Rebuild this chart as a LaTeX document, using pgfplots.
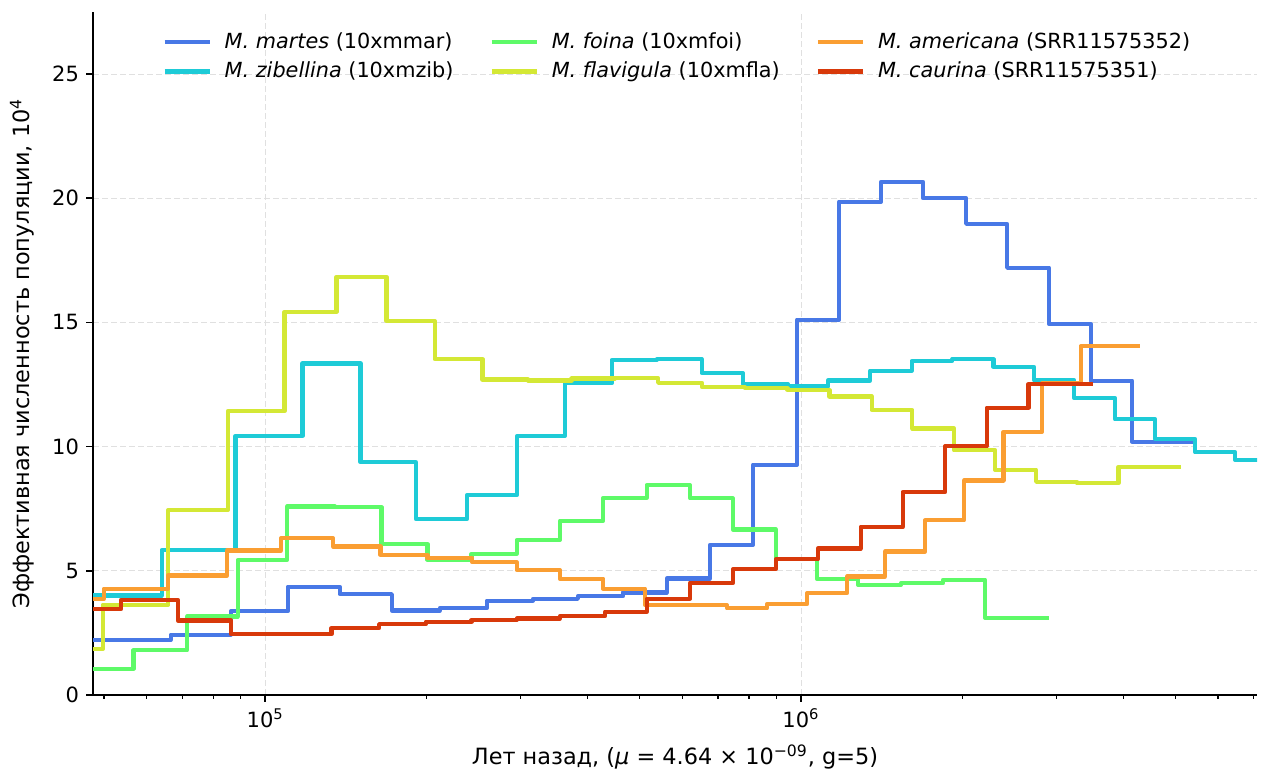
\documentclass[border=0pt]{standalone}
\usepackage{fontspec}
\setmainfont{DejaVu Sans}
\usepackage{pgfplots}
\pgfplotsset{compat=1.18}

\definecolor{cmartes}{HTML}{4878E6}
\definecolor{czibellina}{HTML}{1ECBD7}
\definecolor{cfoina}{HTML}{5EFA68}
\definecolor{cflavigula}{HTML}{D4E835}
\definecolor{camericana}{HTML}{FA9E32}
\definecolor{ccaurina}{HTML}{D8390A}

\begin{document}
\begin{tikzpicture}
\begin{axis}[
  name=ax,
  scale only axis,
  width=582pt, height=341.5pt,
  xmode=log,
  xmin=47700, xmax=7.1e6,
  ymin=0, ymax=27.5,
  axis x line=bottom, axis y line=left,
  axis line style={-, line width=0.8pt, black},
  xtick={1e5,1e6},
  xticklabels={10\textsuperscript{5},10\textsuperscript{6}},
  minor xtick={5e4,6e4,7e4,8e4,9e4,2e5,3e5,4e5,5e5,6e5,7e5,8e5,9e5,2e6,3e6,4e6,5e6,6e6,7e6},
  ytick={0,5,10,15,20,25},
  tick align=outside,
  major tick length=3.5pt, minor tick length=2pt,
  major tick style={black, line width=0.8pt},
  minor tick style={black, line width=0.6pt},
  xmajorgrids, ymajorgrids,
  major grid style={black!12, dash pattern=on 3pt off 1.5pt, line width=0.5pt},
  /pgf/number format/assume math mode=true,
  ticklabel style={font=\fontsize{10.5}{12.5}\selectfont},
  label style={font=\fontsize{11.2}{13.5}\selectfont},
  xlabel={Лет назад, (\textit{μ} = 4.64 × 10\textsuperscript{−09}, g=5)},
  ylabel={Эффективная численность популяции, 10\textsuperscript{4}},
  xlabel style={at={(axis description cs:0.5,-0.0908)}, anchor=center},
  ylabel style={at={(axis description cs:-0.061,0.5)}, anchor=center},
  every axis plot/.append style={const plot, line width=2.1pt, line join=round},
  legend columns=3,
  legend cell align=left,
  legend image code/.code={\draw[#1, line width=2.1pt] (0pt,0pt) -- (22.5pt,0pt); \path (27pt,0pt);},
  legend style={draw=none, fill=none, at={(0.0593,0.9766)}, anchor=north west,
    inner sep=0pt, row sep=1.5pt, font=\fontsize{10.4}{12.4}\selectfont,
    /tikz/every even column/.append style={column sep=16pt}},
]

% M. martes
\addplot[cmartes, forget plot] coordinates {
(45000,2.22) (66600,2.43) (86200,3.37) (110150,4.36) (137750,4.06) (172270,3.40)
(211800,3.50) (259200,3.80) (315900,3.87) (383300,3.98) (465200,4.13) (562100,4.69)
(676200,6.04) (813500,9.27) (982900,15.11) (1177600,19.86) (1410600,20.66)
(1689700,20.0) (2033000,18.97) (2425000,17.2) (2905000,14.93) (3479000,12.65)
(4151000,10.2) (5395000,10.2)};

% M. zibellina
\addplot[czibellina, forget plot] coordinates {
(45000,4.01) (64070,5.84) (87970,10.43) (117340,13.35) (150620,9.37) (190980,7.09)
(238180,8.06) (295270,10.43) (362520,12.55) (443100,13.49) (537600,13.52)
(652500,12.96) (779300,12.52) (944700,12.42) (1121600,12.66) (1345500,13.06)
(1609500,13.45) (1916500,13.52) (2286200,13.21) (2723400,12.67) (3234400,11.95)
(3858000,11.10) (4583000,10.31) (5443000,9.77) (6464000,9.46) (7500000,9.46)};

% M. foina
\addplot[cfoina, forget plot] coordinates {
(45000,1.05) (56750,1.80) (71450,3.16) (88840,5.44) (109830,7.59) (134830,7.56)
(164810,6.07) (200870,5.44) (242730,5.69) (294550,6.24) (354810,7.02) (427360,7.94)
(515120,8.45) (620420,7.92) (745640,6.66) (897970,5.46) (1069800,4.68)
(1277500,4.44) (1537200,4.51) (1841800,4.64) (2205800,3.11) (2905000,3.11)};

% M. flavigula
\addplot[cflavigula, forget plot] coordinates {
(45000,1.85) (49720,3.63) (65950,7.45) (85110,11.43) (108610,15.43) (135820,16.84)
(168400,15.06) (207250,13.52) (254460,12.70) (309590,12.66) (373090,12.74)
(449450,12.75) (541330,12.57) (653300,12.40) (786000,12.36) (943700,12.28)
(1130200,12.02) (1355200,11.47) (1613600,10.73) (1930600,9.85) (2303400,9.07)
(2746800,8.58) (3276500,8.52) (3913400,9.19) (5124000,9.19)};

% M. americana
\addplot[camericana, forget plot] coordinates {
(45000,3.87) (49940,4.28) (65750,4.81) (84860,5.82) (107030,6.31) (133850,5.98)
(164100,5.64) (200870,5.51) (243550,5.34) (294550,5.03) (354810,4.68) (427360,4.28)
(511300,3.63) (607300,3.61) (727400,3.49) (863900,3.66) (1026100,4.10)
(1218700,4.77) (1435000,5.78) (1704600,7.03) (2015700,8.64) (2387200,10.6)
(2818400,12.55) (3325800,14.04) (4296000,14.04)};

% M. caurina
\addplot[ccaurina, forget plot] coordinates {
(45000,3.46) (53790,3.83) (68640,3.00) (86320,2.45) (132910,2.69) (163120,2.85)
(199390,2.95) (242730,3.02) (294550,3.08) (354810,3.17) (430500,3.35) (515120,3.88)
(620420,4.52) (747500,5.07) (897970,5.46) (1074500,5.90) (1292600,6.77)
(1548500,8.17) (1857500,10.01) (2222200,11.57) (2657600,12.51) (3504400,12.51)};

\addlegendimage{cmartes}\addlegendentry{\textit{M. martes} (10xmmar)}
\addlegendimage{cfoina}\addlegendentry{\textit{M. foina} (10xmfoi)}
\addlegendimage{camericana}\addlegendentry{\textit{M. americana} (SRR11575352)}
\addlegendimage{czibellina}\addlegendentry{\textit{M. zibellina} (10xmzib)}
\addlegendimage{cflavigula}\addlegendentry{\textit{M. flavigula} (10xmfla)}
\addlegendimage{ccaurina}\addlegendentry{\textit{M. caurina} (SRR11575351)}
\end{axis}
\pgfresetboundingbox
\path ([xshift=-46.5pt,yshift=-37pt]ax.south west) rectangle ([xshift=3pt,yshift=6pt]ax.north east);
\end{tikzpicture}
\end{document}
